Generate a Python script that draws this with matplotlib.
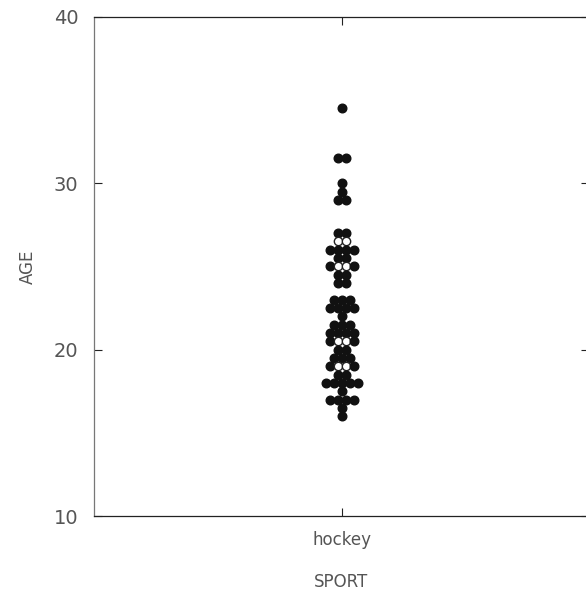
import numpy as np
import matplotlib
matplotlib.use("Agg")
import matplotlib.pyplot as plt

# dot plot of hockey players' ages (binned at half years)
sport = "hockey"
age_levels = [34.5, 31.5, 30.0, 29.5, 29.0, 27.0, 26.5, 26.0, 25.5, 25.0,
              24.5, 24.0, 23.0, 22.5, 22.0, 21.5, 21.0, 20.5, 20.0, 19.5,
              19.0, 18.5, 18.0, 17.5, 17.0, 16.5, 16.0]
counts = [1, 2, 1, 1, 2, 2, 2, 4, 2, 4,
          2, 2, 3, 4, 1, 3, 4, 4, 2, 3,
          4, 2, 5, 1, 4, 1, 1]
# number of hollow-looking dots in the middle of each row
hollow = [0, 0, 0, 0, 0, 0, 2, 0, 0, 2,
          0, 0, 0, 0, 0, 0, 0, 2, 0, 0,
          2, 0, 0, 0, 0, 0, 0]

plt.rcParams['font.family'] = ['DejaVu Sans']
txt = '#555555'

fig = plt.figure(figsize=(5.86, 5.98), dpi=100)
# right spine sits just past the image edge, as in the scan
ax = fig.add_axes([0.160, 0.137, 0.845, 0.835])

step = 0.0326
for age, n, h in zip(age_levels, counts, hollow):
    offs = (np.arange(n) - (n - 1) / 2) * step
    mid = set(range((n - h) // 2, (n - h) // 2 + h)) if h else set()
    for i, dx in enumerate(offs):
        if i in mid:
            ax.plot(dx, age, 'o', ms=6.0, mfc='white', mec='#222222', mew=1.0)
        else:
            ax.plot(dx, age, 'o', ms=6.2, color='#111111', mec='#111111')

ax.set_xlim(-1.004, 0.996)
ax.set_ylim(10, 40)
ax.set_yticks([10, 20, 30, 40])
ax.set_xticks([0])
ax.set_xticklabels([sport])
ax.tick_params(direction='in', top=True, right=True, length=6, width=0.8,
               colors='#222222', labelcolor=txt)
ax.tick_params(axis='y', labelsize=14, pad=11)
ax.tick_params(axis='x', labelsize=12, pad=11)
for s in ax.spines.values():
    s.set_linewidth(0.9)
    s.set_color('#222222')
ax.spines['left'].set_color('#777777')

ax.set_ylabel('AGE', fontsize=12, color=txt, labelpad=12)
ax.set_xlabel('SPORT', fontsize=12, color=txt, labelpad=17)

fig.savefig('out.png', dpi=100)
